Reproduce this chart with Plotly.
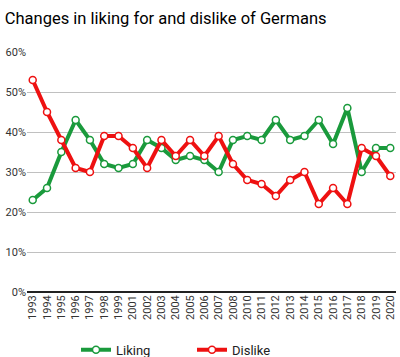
import plotly.graph_objects as go

years = ["1993","1994","1995","1996","1997","1998","1999","2001","2002","2003","2004","2005","2006",
         "2007","2008","2010","2011","2012","2013","2014","2015","2016","2017","2018","2019","2020"]
liking = [23,26,35,43,38,32,31,32,38,36,33,34,33,30,38,39,38,43,38,39,43,37,46,30,36,36]
dislike = [53,45,38,31,30,39,39,36,31,38,34,38,34,39,32,28,27,24,28,30,22,26,22,36,34,29]

GREEN = "#1a9a3c"
RED = "#ee1111"

fig = go.Figure()
for name, vals, col in [("Liking", liking, GREEN), ("Dislike", dislike, RED)]:
    fig.add_trace(go.Scatter(
        x=years, y=vals, name=name, mode="lines+markers",
        line=dict(color=col, width=4),
        marker=dict(size=7, color="white", line=dict(color=col, width=1.5)),
    ))

fig.update_layout(
    width=400, height=357,
    margin=dict(l=27, r=4, t=52, b=65, autoexpand=False),
    paper_bgcolor="white", plot_bgcolor="white",
    font=dict(family="Roboto, sans-serif", size=11, color="#333"),
    title=dict(text="Changes in liking for and dislike of Germans", x=0.012, xanchor="left",
               y=0.95, yanchor="middle", font=dict(size=16.5, color="#000")),
    showlegend=True,
    legend=dict(orientation="h", xref="container", yref="container",
                x=0.48, xanchor="center", y=0.02, yanchor="middle",
                font=dict(size=13, color="#222"), entrywidth=71, entrywidthmode="pixels",
                tracegroupgap=0),
    xaxis=dict(type="category", tickmode="array", tickvals=years, ticktext=years,
               range=[-0.4, len(years) - 0.6],
               tickangle=-90, showgrid=False, showline=False, ticks="", automargin=False,
               tickfont=dict(size=11, color="#333")),
    yaxis=dict(range=[0, 60], dtick=10, ticksuffix="%", showgrid=True, gridcolor="#c0c0c0",
               gridwidth=1, zeroline=True, zerolinecolor="#222", zerolinewidth=1.5,
               automargin=False, tickfont=dict(size=11, color="#333"), ticks=""),
)

fig.write_html("out.html", config={"displayModeBar": False},
               post_script="document.body.style.margin='0';document.body.style.overflow='hidden';")
